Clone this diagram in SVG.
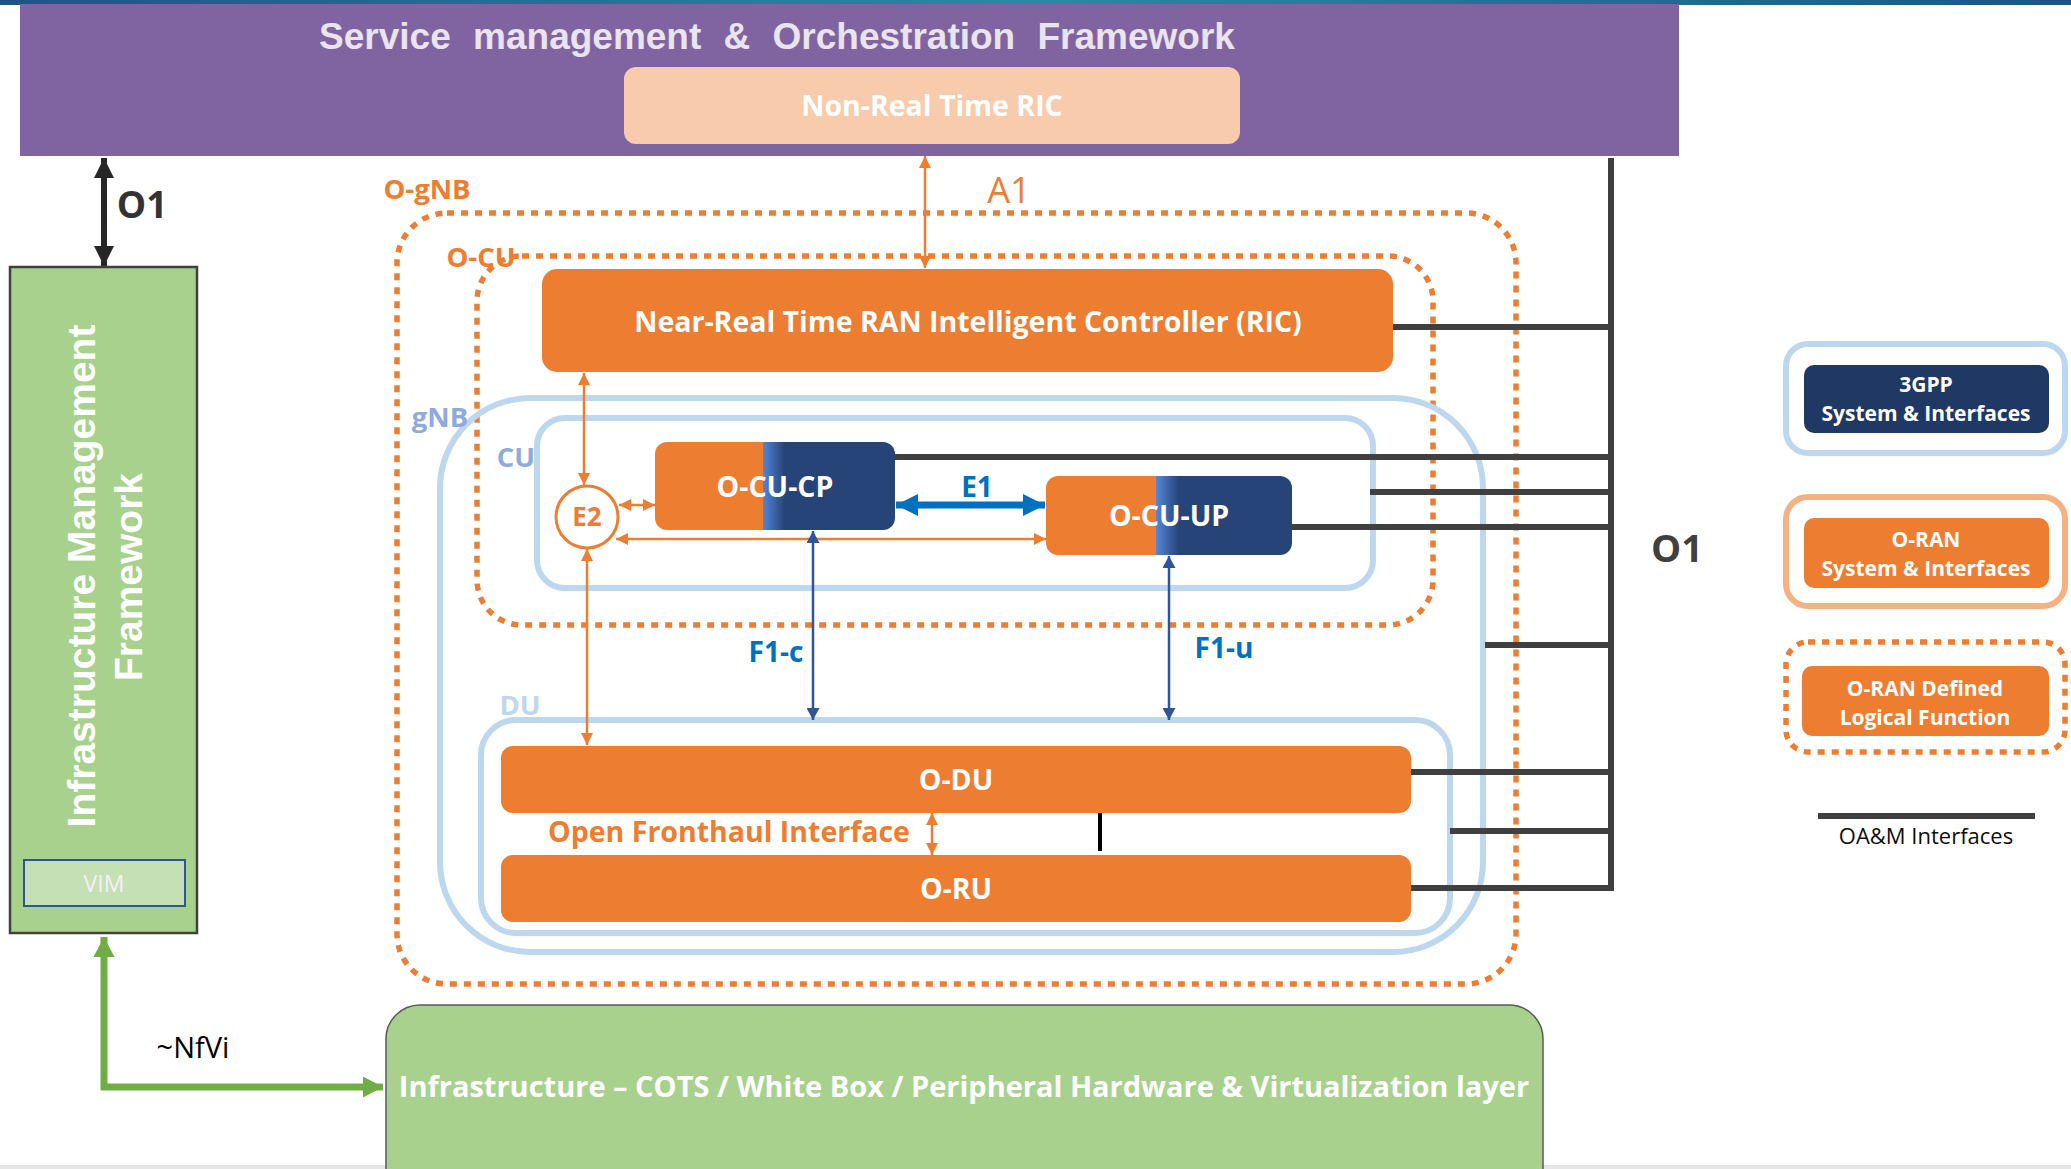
<svg xmlns="http://www.w3.org/2000/svg" width="2071" height="1169" viewBox="0 0 2071 1169">
<defs>
<style>
.sb{font-family:"Open Sans","Noto Sans",sans-serif;font-weight:700;text-anchor:middle}
.sn{font-family:"Open Sans","Noto Sans",sans-serif;font-weight:400;text-anchor:middle}
.ab{font-family:"Liberation Sans",Arial,sans-serif;font-weight:700;text-anchor:middle}
.w{fill:#FFFFFF}
.org{fill:#ED7D31}
.obox{fill:#ED7D31}
.dot{fill:none;stroke:#ED7D31;stroke-width:5.5;stroke-dasharray:7 7}
.lb{fill:none;stroke:#BDD7EE;stroke-width:6}
.oam{stroke:#404040;stroke-width:6;fill:none}
.ao{stroke:#ED7D31;stroke-width:2.5;fill:none;marker-start:url(#mo);marker-end:url(#mo)}
.ab2{stroke:#2F5597;stroke-width:2.5;fill:none;marker-start:url(#mb);marker-end:url(#mb)}
</style>
<linearGradient id="topstrip" x1="0" y1="0" x2="1" y2="0">
<stop offset="0" stop-color="#1D5586"/><stop offset="0.5" stop-color="#2A8AA3"/><stop offset="1" stop-color="#1D5586"/>
</linearGradient>
<linearGradient id="cuGrad" x1="0" y1="0" x2="1" y2="0">
<stop offset="0" stop-color="#ED7D31"/><stop offset="0.448" stop-color="#ED7D31"/><stop offset="0.449" stop-color="#5585D6"/><stop offset="0.54" stop-color="#264478"/><stop offset="1" stop-color="#264478"/>
</linearGradient>
<marker id="mo" viewBox="0 0 10 10" refX="10" refY="5" markerWidth="12" markerHeight="12" markerUnits="userSpaceOnUse" orient="auto-start-reverse"><path d="M0,0 L10,5 L0,10 z" fill="#ED7D31"/></marker>
<marker id="mb" viewBox="0 0 10 10" refX="10" refY="5" markerWidth="12" markerHeight="13" markerUnits="userSpaceOnUse" orient="auto-start-reverse" preserveAspectRatio="none"><path d="M0,0 L10,5 L0,10 z" fill="#2F5597"/></marker>
<marker id="mk" viewBox="0 0 10 10" refX="10" refY="5" markerWidth="20" markerHeight="20" markerUnits="userSpaceOnUse" orient="auto-start-reverse"><path d="M0,0 L10,5 L0,10 z" fill="#262626"/></marker>
<marker id="me1" viewBox="0 0 10 10" refX="10" refY="5" markerWidth="22" markerHeight="22" markerUnits="userSpaceOnUse" orient="auto-start-reverse"><path d="M0,0 L10,5 L0,10 z" fill="#0070C0"/></marker>
<marker id="mg" viewBox="0 0 10 10" refX="10" refY="5" markerWidth="20" markerHeight="21" markerUnits="userSpaceOnUse" orient="auto-start-reverse" preserveAspectRatio="none"><path d="M0,0 L10,5 L0,10 z" fill="#70AD47"/></marker>
</defs>

<rect x="0" y="0" width="2071" height="1169" fill="#FFFFFF"/>
<rect x="0" y="0" width="2071" height="5" fill="url(#topstrip)"/>
<rect x="0" y="1165" width="2071" height="4" fill="#E7E6E6"/>

<g id="smo">
<rect x="20" y="4" width="1659" height="152" fill="#8064A2"/>
<text class="ab" x="777" y="49" font-size="37" word-spacing="12" fill="#EAE4EF">Service management &amp; Orchestration Framework</text>
</g>
<g id="non-rt-ric">
<rect x="624" y="67" width="616" height="77" rx="12" fill="#F8CBAD"/>
<text class="sb w" x="932" y="116" font-size="28.5">Non-Real Time RIC</text>
</g>

<g id="o-gnb">
<rect class="dot" x="397" y="213" width="1119" height="771" rx="50"/>
<text class="sb org" x="427" y="199" font-size="27.5">O-gNB</text>
</g>
<g id="o-cu">
<rect class="dot" x="477" y="256" width="956" height="369" rx="45"/>
<text class="sb org" x="481" y="267" font-size="27.5">O-CU</text>
</g>
<g id="gnb">
<rect class="lb" x="440" y="398" width="1043" height="554" rx="90"/>
<text class="sb" x="440" y="427" font-size="27.5" fill="#8FAADC">gNB</text>
</g>
<g id="cu">
<rect class="lb" x="537" y="418" width="836" height="170" rx="28"/>
<text class="sb" x="516" y="467" font-size="27.5" fill="#8FAADC">CU</text>
</g>
<g id="du">
<rect class="lb" x="481" y="720" width="969" height="213" rx="35"/>
<text class="sb" x="520" y="715" font-size="27.5" fill="#BDD7EE">DU</text>
</g>

<g id="connectors">
<line x1="104" y1="158" x2="104" y2="266" stroke="#262626" stroke-width="6" marker-start="url(#mk)" marker-end="url(#mk)"/>
<line class="ao" x1="925" y1="156" x2="925" y2="268"/>
<line class="ao" x1="584" y1="373" x2="584" y2="485"/>
<line class="ao" x1="619" y1="505" x2="655" y2="505"/>
<line class="ao" x1="616" y1="539" x2="1046" y2="539"/>
<line class="ao" x1="587" y1="549" x2="587" y2="745"/>
<line class="ao" x1="932" y1="813" x2="932" y2="855"/>
<line x1="896" y1="505" x2="1045" y2="505" stroke="#0070C0" stroke-width="7" marker-start="url(#me1)" marker-end="url(#me1)"/>
<line class="ab2" x1="813" y1="531" x2="813" y2="720"/>
<line class="ab2" x1="1169" y1="556" x2="1169" y2="720"/>
<path d="M104,937 V1087 H383" stroke="#70AD47" stroke-width="7" fill="none" marker-start="url(#mg)" marker-end="url(#mg)"/>
<line class="oam" x1="1611" y1="158" x2="1611" y2="891"/>
<line class="oam" x1="1393" y1="327" x2="1611" y2="327"/>
<line class="oam" x1="890" y1="457" x2="1611" y2="457"/>
<line class="oam" x1="1370" y1="492" x2="1611" y2="492"/>
<line class="oam" x1="1290" y1="527" x2="1611" y2="527"/>
<line class="oam" x1="1485" y1="645" x2="1611" y2="645"/>
<line class="oam" x1="1410" y1="772" x2="1611" y2="772"/>
<line class="oam" x1="1450" y1="831" x2="1611" y2="831"/>
<line class="oam" x1="1410" y1="888" x2="1611" y2="888"/>
<line x1="1100" y1="810" x2="1100" y2="851" stroke="#000000" stroke-width="4"/>
<text class="sb" x="142" y="218" font-size="37" fill="#333333">O1</text>
<text class="sn org" x="1009" y="203" font-size="36">A1</text>
<text class="sb" x="977" y="497" font-size="28" fill="#0070C0">E1</text>
<text class="sb" x="776" y="662" font-size="28" fill="#0070C0">F1-c</text>
<text class="sb" x="1224" y="658" font-size="28" fill="#0070C0">F1-u</text>
<text class="sb org" x="729" y="842" font-size="28.5">Open Fronthaul Interface</text>
<text class="sn" x="193" y="1058" font-size="29" fill="#000000">~NfVi</text>
<text class="sb" x="1677" y="562" font-size="38" fill="#404040">O1</text>
</g>

<g id="near-rt-ric">
<rect x="542" y="269" width="851" height="103" rx="15" class="obox"/>
<text class="sb w" x="968" y="332" font-size="28.5">Near-Real Time RAN Intelligent Controller (RIC)</text>
</g>
<g id="e2">
<circle cx="587" cy="517" r="31" fill="#FFFFFF" stroke="#ED7D31" stroke-width="3"/>
<text class="sb org" x="587" y="526" font-size="26">E2</text>
</g>
<g id="o-cu-cp">
<rect x="655" y="442" width="240" height="88" rx="12" fill="url(#cuGrad)"/>
<text class="sb w" x="775" y="497" font-size="28.5">O-CU-CP</text>
</g>
<g id="o-cu-up">
<rect x="1046" y="476" width="246" height="79" rx="12" fill="url(#cuGrad)"/>
<text class="sb w" x="1169" y="526" font-size="28.5">O-CU-UP</text>
</g>
<g id="o-du">
<rect x="501" y="746" width="910" height="67" rx="12" class="obox"/>
<text class="sb w" x="956" y="790" font-size="28.5">O-DU</text>
</g>
<g id="o-ru">
<rect x="501" y="855" width="910" height="67" rx="12" class="obox"/>
<text class="sb w" x="956" y="899" font-size="28.5">O-RU</text>
</g>

<g id="infra-mgmt">
<rect x="10" y="267" width="187" height="666" fill="#A9D18E" stroke="#404040" stroke-width="2.5"/>
<text class="ab w" transform="translate(95,576) rotate(-90)" font-size="39">Infrastructure Management</text>
<text class="ab w" transform="translate(142,577) rotate(-90)" font-size="39">Framework</text>
</g>
<g id="vim">
<rect x="24" y="860" width="161" height="46" fill="#C5E0B4" stroke="#2F5597" stroke-width="2"/>
<text class="sn" x="104" y="892" font-size="23" fill="#F2F2F2">VIM</text>
</g>
<g id="infrastructure">
<rect x="386" y="1005" width="1157" height="220" rx="34" fill="#A9D18E" stroke="#595959" stroke-width="1.5"/>
<text class="sb w" x="964" y="1097" font-size="29">Infrastructure – COTS / White Box / Peripheral Hardware &amp; Virtualization layer</text>
</g>

<g id="legend-3gpp">
<rect x="1786" y="344" width="279" height="109" rx="22" fill="#FFFFFF" stroke="#BDD7EE" stroke-width="6"/>
<rect x="1804" y="365" width="245" height="68" rx="10" fill="#203864"/>
<text class="sb w" x="1926" y="392" font-size="21">3GPP</text>
<text class="sb w" x="1926" y="421" font-size="21">System &amp; Interfaces</text>
</g>
<g id="legend-oran">
<rect x="1786" y="497" width="279" height="109" rx="22" fill="#FFFFFF" stroke="#F4B183" stroke-width="6"/>
<rect x="1804" y="518" width="245" height="70" rx="10" fill="#ED7D31"/>
<text class="sb w" x="1926" y="547" font-size="21">O-RAN</text>
<text class="sb w" x="1926" y="576" font-size="21">System &amp; Interfaces</text>
</g>
<g id="legend-oran-defined">
<rect class="dot" x="1786" y="642" width="279" height="110" rx="22"/>
<rect x="1802" y="666" width="247" height="70" rx="10" fill="#ED7D31"/>
<text class="sb w" x="1925" y="696" font-size="21">O-RAN Defined</text>
<text class="sb w" x="1925" y="725" font-size="21">Logical Function</text>
</g>
<g id="legend-oam">
<line x1="1818" y1="816" x2="2035" y2="816" stroke="#404040" stroke-width="6"/>
<text class="sn" x="1926" y="844" font-size="22" fill="#0D0D0D">OA&amp;M Interfaces</text>
</g>
</svg>
